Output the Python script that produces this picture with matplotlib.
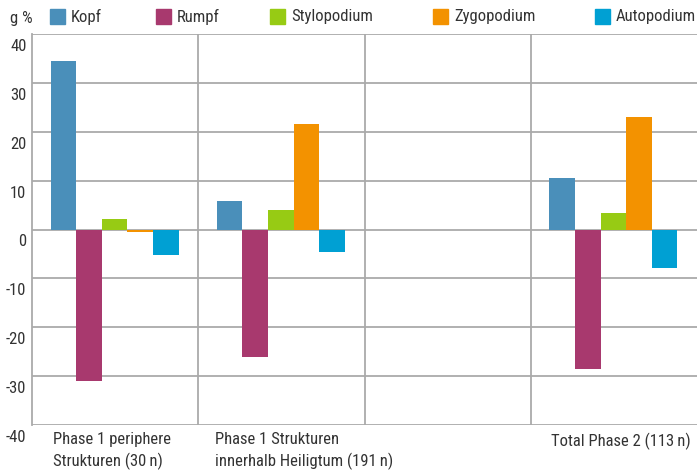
import numpy as np
import matplotlib
matplotlib.use("Agg")
from matplotlib import pyplot as plt
from matplotlib import font_manager
from matplotlib.patches import Rectangle
import matplotlib.transforms as mtrans

# look for a narrow font, the original uses a condensed face
names = set(f.name for f in font_manager.fontManager.ttflist)
cond = [f for f in font_manager.fontManager.ttflist
        if 'Condensed' in f.name or 'Narrow' in f.name or f.stretch in ('condensed', 'semi-condensed')]
fam = 'DejaVu Sans'
for cand in ['Roboto Condensed', 'Liberation Sans Narrow', 'Open Sans Condensed']:
    if cand in names:
        fam = cand
        break
else:
    if cond:
        fam = cond[0].name
        plt.rcParams['font.stretch'] = cond[0].stretch
plt.rcParams['font.family'] = [fam, 'DejaVu Sans']
plt.rcParams['axes.unicode_minus'] = False

# data
groups = ['Phase 1 periphere\nStrukturen (30\u2009n)',
          'Phase 1 Strukturen\ninnerhalb Heiligtum (191\u2009n)',
          '',
          'Total Phase 2 (113\u2009n)']
series = ['Kopf', 'Rumpf', 'Stylopodium', 'Zygopodium', 'Autopodium']
kopf = [34.4, 5.9, np.nan, 10.6]
rumpf = [-30.9, -26.0, np.nan, -28.6]
stylopodium = [2.2, 3.9, np.nan, 3.3]
zygopodium = [-0.6, 21.5, np.nan, 23.1]
autopodium = [-5.3, -4.7, np.nan, -7.8]
yticks = [40, 30, 20, 10, 0, -10, -20, -30, -40]

values = [kopf, rumpf, stylopodium, zygopodium, autopodium]
colors = ['#4a8fba', '#a8396e', '#97cb14', '#f39200', '#00a0d3']
grid_c = '#aaaaaa'
text_c = '#333333'
fs = 12

fig = plt.figure(figsize=(6.97, 4.75), dpi=100)
ax = fig.add_axes([32 / 697, 50 / 475, 1 - 32 / 697, 391 / 475])

bw = 0.154
off = 0.112
x = np.arange(len(groups))
for i, (name, vals) in enumerate(zip(series, values)):
    ax.bar(x + off + i * bw, vals, width=bw, align='edge', color=colors[i],
           label=name, zorder=3)

ax.set_xlim(0, 4)
ax.set_ylim(-40, 40)
ax.set_yticks(yticks)
ax.yaxis.grid(True, color=grid_c, lw=1.3, zorder=1)
for xv in [1, 2, 3]:
    ax.axvline(xv, color=grid_c, lw=1.3, zorder=1)
ax.set_xticks([])
for s in ['top', 'right', 'bottom']:
    ax.spines[s].set_visible(False)
ax.spines['left'].set_color(grid_c)
ax.spines['left'].set_linewidth(1.3)
ax.tick_params(axis='y', length=0, pad=4, labelsize=fs, labelcolor=text_c)
for lab in ax.get_yticklabels():
    lab.set_va('top')
    lab.set_transform(lab.get_transform() + mtrans.ScaledTranslation(0, -5 / 100, fig.dpi_scale_trans))

# category labels
label_x = [0.125, 0.1, 2.1, 0.12]
for i, g in enumerate(groups):
    if g:
        ax.text(i + label_x[i], -41.5, g, ha='left', va='top', fontsize=fs,
                color=text_c, linespacing=1.4)

# legend on top
fig.text(10 / 697, 1 - 18 / 475, 'g %', ha='left', va='center', fontsize=fs, color=text_c)
leg_x = [50, 156, 270, 433, 595]
for name, c, lx in zip(series, colors, leg_x):
    fig.patches.append(Rectangle((lx / 697, 1 - 24 / 475), 15 / 697, 15 / 475,
                                 transform=fig.transFigure, color=c))
    fig.text((lx + 21) / 697, 1 - 17 / 475, name, ha='left', va='center',
             fontsize=fs, color=text_c)

fig.savefig('out.png', dpi=100)
